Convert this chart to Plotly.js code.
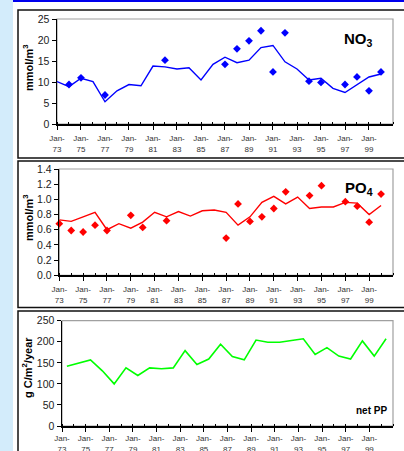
<!DOCTYPE html>
<html>
<head>
<meta charset="utf-8">
<script src="https://cdn.plot.ly/plotly-3.0.1.min.js"></script>
<style>html,body{margin:0;padding:0;background:#fff;}#chart{width:404px;height:451px;}</style>
</head>
<body>
<div id="chart"></div>
<script>
// ---- data ----
const lineYears = [1973,1974,1975,1976,1977,1978,1979,1980,1981,1982,1983,1984,1985,1986,1987,1988,1989,1990,1991,1992,1993,1994,1995,1996,1997,1998,1999,2000];
const no3Line = [10.1,8.9,10.9,10.1,5.3,7.9,9.4,9.1,13.8,13.6,13.1,13.4,10.5,14.2,15.9,14.6,15.2,18.2,18.7,14.8,13.1,10.5,10.9,8.5,7.5,9.4,11.2,11.9];
const no3ObsYears = [1974,1975,1977,1982,1987,1988,1989,1990,1991,1992,1994,1995,1997,1998,1999,2000];
const no3Obs = [9.4,11.0,6.9,15.2,14.2,17.9,19.8,22.2,12.4,21.7,10.2,9.9,9.4,11.2,7.9,12.4];
const po4Line = [0.73,0.71,0.77,0.83,0.60,0.68,0.62,0.70,0.83,0.77,0.84,0.78,0.85,0.86,0.83,0.66,0.77,0.96,1.04,0.94,1.03,0.88,0.90,0.90,0.96,0.95,0.80,0.92];
const po4ObsYears = [1973,1974,1975,1976,1977,1979,1980,1982,1987,1988,1989,1990,1991,1992,1994,1995,1997,1998,1999,2000];
const po4Obs = [0.68,0.59,0.57,0.66,0.59,0.79,0.63,0.72,0.49,0.94,0.71,0.77,0.88,1.10,1.05,1.18,0.97,0.91,0.70,1.07];
const ppValues = [142,149,157,131,100,138,120,138,136,138,179,146,159,194,165,157,204,199,199,203,207,170,186,166,159,202,166,207];
const tickYears = [1973,1975,1977,1979,1981,1983,1985,1987,1989,1991,1993,1995,1997,1999];
const yTitles = ['mmol/m<sup>3</sup>', 'mmol/m<sup>3</sup>', 'g C/m<sup>2</sup>/year'];
const panelLabels = ['NO<sub>3</sub>', 'PO<sub>4</sub>', 'net PP'];

// ---- helpers ----
const W = 404, H = 451;
const px = x => x / W;
const py = y => 1 - y / H;
const jan = y => y + '-01-01';
const mid = y => y + '-06-01';
const tickvals = tickYears.map(jan);
const ticktext = tickYears.map(y => 'Jan-<br>' + String(y).slice(2));
const FONT = 'Arial, "Liberation Sans", sans-serif';

const traces = [
  {x: lineYears.map(jan), y: no3Line, type: 'scatter', mode: 'lines', line: {color: '#0000ff', width: 1.4}, xaxis: 'x', yaxis: 'y'},
  {x: no3ObsYears.map(jan), y: no3Obs, type: 'scatter', mode: 'markers', marker: {symbol: 'diamond', size: 6, color: '#0000ff'}, cliponaxis: false, xaxis: 'x', yaxis: 'y'},
  {x: lineYears.map(jan), y: po4Line, type: 'scatter', mode: 'lines', line: {color: '#ff0000', width: 1.4}, xaxis: 'x2', yaxis: 'y2'},
  {x: po4ObsYears.map(jan), y: po4Obs, type: 'scatter', mode: 'markers', marker: {symbol: 'diamond', size: 6, color: '#ff0000'}, cliponaxis: false, xaxis: 'x2', yaxis: 'y2'},
  {x: lineYears.map(mid), y: ppValues, type: 'scatter', mode: 'lines', line: {color: '#00ff00', width: 1.6}, xaxis: 'x3', yaxis: 'y3'}
];

function xax(l, anchor, standoff) {
  return {
    type: 'date', domain: [px(l), px(393)], anchor: anchor,
    range: ['1973-01-01', '2001-01-01'],
    tickmode: 'array', tickvals: tickvals, ticktext: ticktext,
    tickfont: {family: FONT, size: 8, color: '#333'},
    ticks: 'outside', ticklen: 4, tickwidth: 1, tickcolor: '#000',
    ticklabelstandoff: standoff,
    minor: {ticks: 'inside', dtick: 'M12', tick0: '1973-01-01', ticklen: 2, tickcolor: '#000', showgrid: false},
    showline: true, linecolor: '#000', linewidth: 1.5,
    showgrid: false, zeroline: false, fixedrange: true
  };
}
function yax(top, bot, range, dtick, fmt, anchor) {
  return {
    domain: [py(bot), py(top)], anchor: anchor, range: range, dtick: dtick, tick0: 0,
    tickformat: fmt,
    tickfont: {family: FONT, size: 10.5, color: '#222'},
    ticks: 'outside', ticklen: 4, tickcolor: '#000',
    showline: true, linecolor: '#000', linewidth: 1.5,
    showgrid: false, zeroline: false, fixedrange: true
  };
}

const border = (x0, y0, x1, y1) => ({type: 'rect', xref: 'paper', yref: 'paper', x0: px(x0), x1: px(x1), y0: py(y1), y1: py(y0), line: {color: '#111', width: 1.5}, fillcolor: 'rgba(0,0,0,0)', layer: 'below'});
const plotFrame = (xa, ya) => ({type: 'rect', xref: xa + ' domain', yref: ya + ' domain', x0: 0, x1: 1, y0: 0, y1: 1, line: {color: '#a0a0a0', width: 1.2}, layer: 'below'});
const yTitle = (text, cx, cy) => ({xref: 'paper', yref: 'paper', x: px(cx), y: py(cy), xanchor: 'center', yanchor: 'middle', textangle: -90, showarrow: false, text: '<b>' + text + '</b>', font: {family: FONT, size: 11, color: '#000'}});

const layout = {
  width: W, height: H,
  margin: {l: 0, r: 0, t: 0, b: 0},
  paper_bgcolor: '#ffffff', plot_bgcolor: '#ffffff',
  showlegend: false,
  font: {family: FONT},
  xaxis: xax(57, 'y', 2),
  yaxis: yax(19, 124, [0, 25], 5, 'd', 'x'),
  xaxis2: xax(59.3, 'y2', 2),
  yaxis2: yax(169, 275.3, [0, 1.4], 0.2, '.1f', 'x2'),
  xaxis3: xax(62, 'y3', 0),
  yaxis3: yax(320.7, 426, [0, 250], 50, 'd', 'x3'),
  shapes: [
    {type: 'rect', xref: 'paper', yref: 'paper', x0: 0, x1: px(13), y0: 0, y1: 1, line: {width: 0}, fillcolor: '#d3ecfb', layer: 'below'},
    {type: 'rect', xref: 'paper', yref: 'paper', x0: px(13), x1: 1, y0: py(2), y1: 1, line: {width: 0}, fillcolor: '#0000ee', layer: 'below'},
    border(18, 10, 412, 158),
    border(18, 161, 412, 307.5),
    border(18, 311, 412, 460),
    plotFrame('x', 'y'), plotFrame('x2', 'y2'), plotFrame('x3', 'y3')
  ],
  annotations: [
    yTitle(yTitles[0], 28, 68),
    yTitle(yTitles[1], 28, 218),
    yTitle(yTitles[2], 27, 368),
    {xref: 'paper', yref: 'paper', x: px(375), y: py(28), xanchor: 'right', yanchor: 'top', showarrow: false, text: '<b>' + panelLabels[0] + '</b>', font: {family: FONT, size: 15, color: '#000'}},
    {xref: 'paper', yref: 'paper', x: px(375), y: py(177), xanchor: 'right', yanchor: 'top', showarrow: false, text: '<b>' + panelLabels[1] + '</b>', font: {family: FONT, size: 15, color: '#000'}},
    {xref: 'paper', yref: 'paper', x: px(389), y: py(403), xanchor: 'right', yanchor: 'top', showarrow: false, text: '<b>' + panelLabels[2] + '</b>', font: {family: FONT, size: 10, color: '#000'}}
  ]
};

Plotly.newPlot('chart', traces, layout, {staticPlot: true, displayModeBar: false});
</script>
</body>
</html>
